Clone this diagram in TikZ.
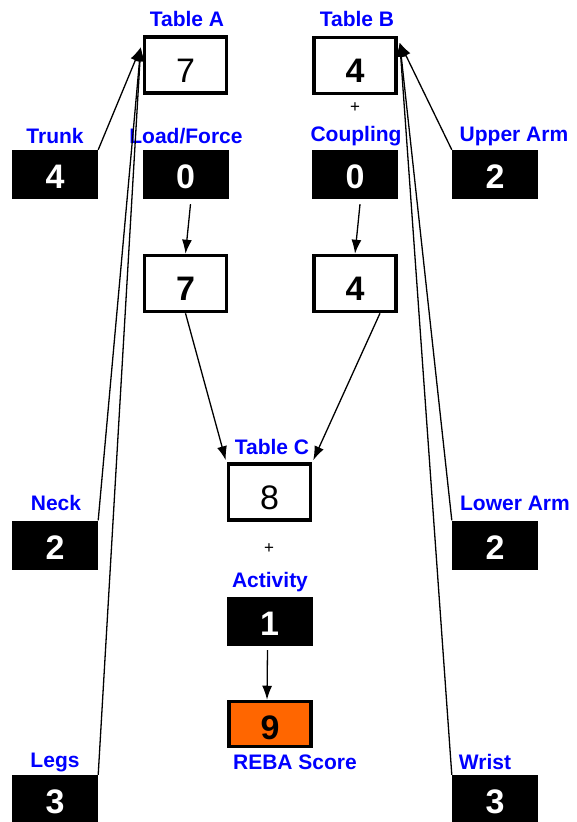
\documentclass[tikz,border=0pt]{standalone}
\usepackage{fontspec}
\setmainfont{Liberation Sans}
\usetikzlibrary{arrows.meta}
\definecolor{rebaorange}{RGB}{255,102,0}
\tikzset{
  lbl/.style={text=blue, font=\fontsize{21}{21}\selectfont\bfseries, inner sep=0pt},
  blackbox/.style={fill=black, text=white, minimum width=86pt, minimum height=49pt, inner sep=0pt, text height=28pt, text depth=0pt, font=\fontsize{34}{34}\selectfont\bfseries},
  whitebox/.style={draw=black, line width=3.5pt, fill=white, minimum width=82pt, minimum height=56pt, inner sep=0pt, text height=34pt, text depth=0pt, font=\fontsize{34}{34}\selectfont\bfseries},
  plainval/.style={font=\fontsize{34}{34}\selectfont},
  conn/.style={line width=1.3pt, -{Latex[length=14pt,width=10pt]}},
  plus/.style={font=\fontsize{17}{17}\selectfont, inner sep=0pt}
}
\begin{document}
\begin{tikzpicture}[x=1pt,y=-1pt]
\useasboundingbox (0,0) rectangle (576,822);
% white boxes
\node[whitebox, plainval] (tA) at (185.5,65) {7};
\node[whitebox] (tB) at (355,65.5) {4};
\node[whitebox] (m1) at (185.5,283.5) {7};
\node[whitebox] (m2) at (355,283.5) {4};
\node[whitebox, plainval] (tC) at (269.5,492) {8};
\node[whitebox, fill=rebaorange, minimum height=45pt, text height=30pt] (reba) at (270,724) {9};
% black boxes
\node[blackbox] (trunk) at (55,174.5) {4};
\node[blackbox] (load) at (185.5,174.5) {0};
\node[blackbox] (coup) at (355,174.5) {0};
\node[blackbox] (uarm) at (495,174.5) {2};
\node[blackbox] (neck) at (55,545) {2};
\node[blackbox] (larm) at (495,545) {2};
\node[blackbox] (legs) at (55,799.5) {3};
\node[blackbox] (wrist) at (495,799.5) {3};
\node[blackbox] (act) at (269.5,621.5) {1};
% labels
\node[lbl] (lA) at (187,19) {Table A};
\node[lbl] (lB) at (357,19) {Table B};
\node[lbl] (lTrunk) at (55,136) {Trunk};
\node[lbl] (lLoad) at (186,136) {Load/Force};
\node[lbl] (lCoup) at (356,136) {Coupling};
\node[lbl] (lUarm) at (514,136) {Upper Arm};
\node[lbl] (lNeck) at (56,503) {Neck};
\node[lbl] (lLarm) at (515,503) {Lower Arm};
\node[lbl] (lLegs) at (55,762) {Legs};
\node[lbl] (lWrist) at (485,762) {Wrist};
\node[lbl] (lC) at (272,447) {Table C};
\node[lbl] (lAct) at (270,582) {Activity};
\node[lbl] (lReba) at (295,762) {REBA Score};
% plus signs
\node[plus] (p1) at (355,108) {+};
\node[plus] (p2) at (269,549) {+};
% arrow tips
\coordinate (tipA) at ([shift={(-2,12)}]tA.north west);
\coordinate (tipB) at ([shift={(2,7)}]tB.north east);
% connectors
\draw[conn] (trunk.north east) -- (tipA);
\draw[conn] (neck.north east) -- (tipA);
\draw[conn] (legs.north east) -- (tipA);
\draw[conn] (uarm.north west) -- (tipB);
\draw[conn] (larm.north west) -- (tipB);
\draw[conn] (wrist.north west) -- (tipB);
\draw[conn] ([shift={(5,5)}]load.south) -- (m1.north);
\draw[conn] ([shift={(5,5)}]coup.south) -- (m2.north);
\draw[conn] (m1.south) -- ([shift={(-1,-2)}]tC.north west);
\draw[conn] ([shift={(25,0)}]m2.south) -- ([shift={(1,-2)}]tC.north east);
\draw[conn] ([shift={(-2,4)}]act.south) -- ([shift={(-3,0)}]reba.north);
\end{tikzpicture}
\end{document}
